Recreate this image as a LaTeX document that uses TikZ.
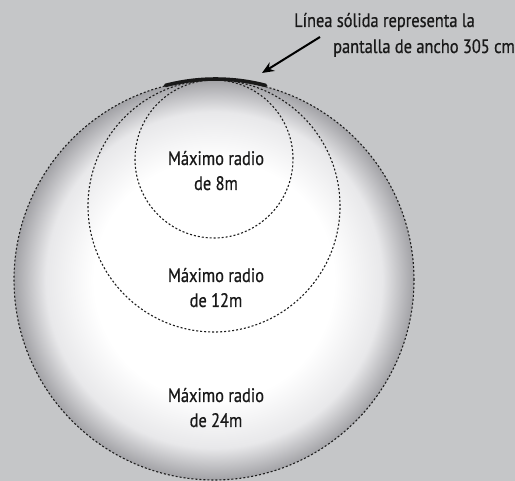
\documentclass[tikz,border=0pt]{standalone}
\usepackage{fontspec}
\setmainfont{PT Sans}[FakeStretch=0.84, FakeBold=0.6]
\usetikzlibrary{arrows.meta}
\definecolor{bgcol}{HTML}{C5C6C8}
\definecolor{rimA}{HTML}{E8E8EA}
\definecolor{rimB}{HTML}{A2A2A6}
\definecolor{dotcol}{HTML}{1E1E1E}
\pgfdeclareradialshading{ballshade}{\pgfpoint{0bp}{0bp}}{color(0bp)=(white); color(15bp)=(white); color(21bp)=(rimA); color(25bp)=(rimB); color(50bp)=(rimB)}
\tikzset{
  ring/.style={circle, inner sep=0pt, draw=dotcol, line width=1.1pt, dash pattern=on 2pt off 2pt},
  lbl/.style={font=\fontsize{19.5}{25}\selectfont, text=black!90, align=center, inner sep=0pt, anchor=base},
  note/.style={font=\fontsize{19.5}{25}\selectfont, text=black!90, inner sep=0pt, anchor=base west},
}
\begin{document}
\begin{tikzpicture}[x=1pt,y=1pt]
\fill[bgcol] (0,0) rectangle (515,481);
\useasboundingbox (0,0) rectangle (515,481);
\node[ring, minimum size=400pt, shading=ballshade] (big) at (214,201) {};
\node[ring, minimum size=252pt] (mid) at (214,275) {};
\node[ring, minimum size=158pt] (small) at (214,322) {};
\draw[line width=3.6pt, line cap=round, black!90] (big.104.5) arc[start angle=104.5, end angle=75.5, radius=200pt];
\node[lbl] (t8) at (216,291) {Máximo radio\\de 8m};
\node[lbl] (t12) at (216,174) {Máximo radio\\de 12m};
\node[lbl] (t24) at (216,54) {Máximo radio\\de 24m};
\node[note] (n1) at (294,454) {Línea sólida representa la};
\node[note] (n2) at (333,428) {pantalla de ancho 305 cm};
\coordinate (tail) at (320,444);
\coordinate (tip) at (262,408);
\draw[line width=2pt, -{Stealth[length=12pt, width=10pt]}] (tail) -- (tip);
\end{tikzpicture}
\end{document}
